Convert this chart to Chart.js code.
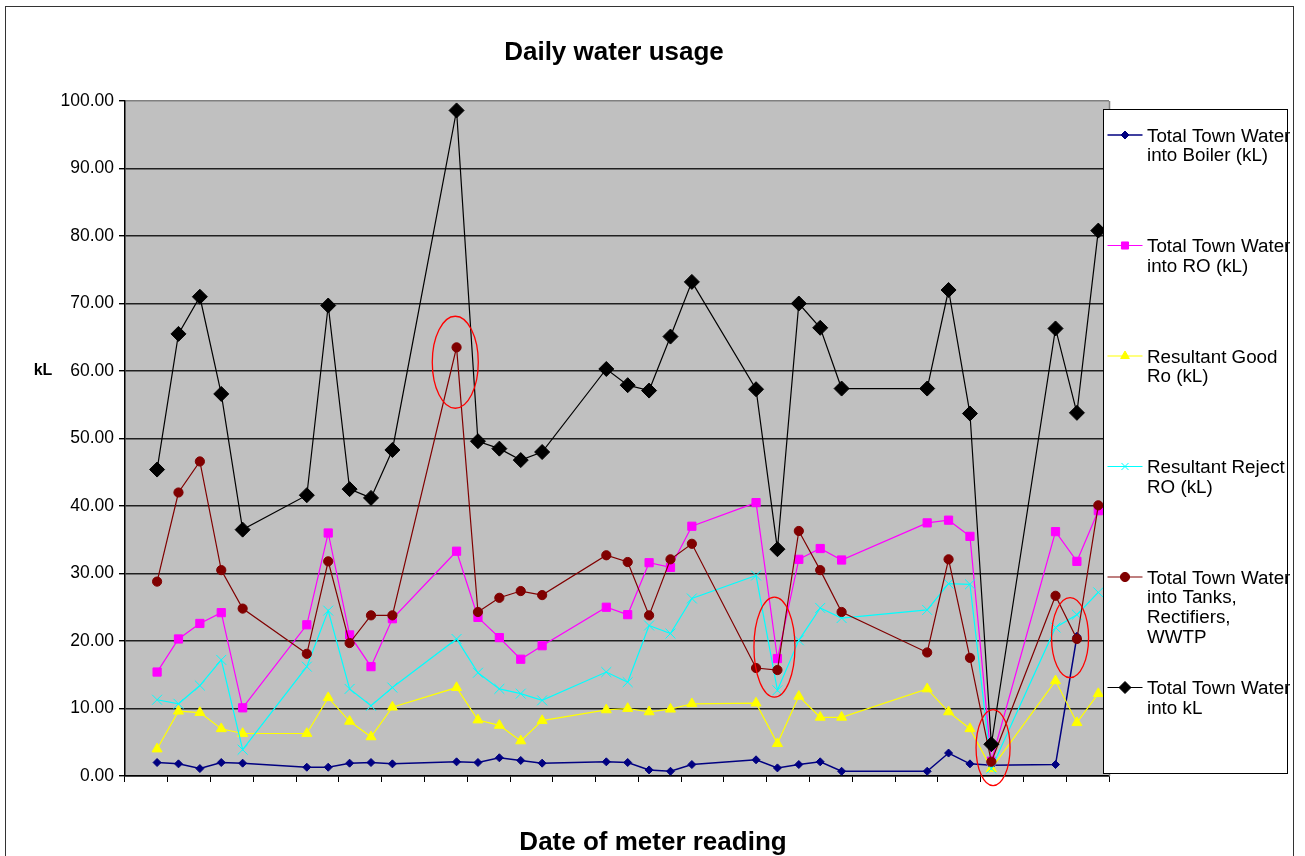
<!DOCTYPE html>
<html><head><meta charset="utf-8">
<script src="https://cdn.jsdelivr.net/npm/chart.js@4.4.1/dist/chart.umd.min.js"></script>
<style>html,body{margin:0;padding:0;background:#fff;overflow:hidden}canvas{display:block}</style>
</head><body>
<canvas id="c" width="1305" height="856"></canvas>
<script>
// ---------- DATA ----------
const dayLabels = Array.from({length: 46}, (_, i) => 'Day ' + (i + 1));
const seriesLines = [
  ['Total Town Water', 'into Boiler (kL)'],
  ['Total Town Water', 'into RO (kL)'],
  ['Resultant Good', 'Ro (kL)'],
  ['Resultant Reject', 'RO (kL)'],
  ['Total Town Water', 'into Tanks,', 'Rectifiers,', 'WWTP'],
  ['Total Town Water', 'into kL']
];
const boilerWater = [null,2.0,1.8,1.1,2.0,1.9,null,null,1.3,1.3,1.9,2.0,1.8,null,null,2.1,2.0,2.7,2.3,1.9,null,null,2.1,2.0,0.9,0.7,1.7,null,null,2.4,1.2,1.7,2.1,0.7,null,null,null,0.7,3.4,1.8,1.6,null,null,1.7,20.7,null];
const roWater     = [null,15.4,20.3,22.6,24.2,10.1,null,null,22.4,36.0,20.9,16.2,23.3,null,null,33.3,23.5,20.5,17.3,19.3,null,null,25.0,23.9,31.6,30.9,37.0,null,null,40.5,17.4,32.1,33.7,32.0,null,null,null,37.5,37.9,35.5,2.2,null,null,36.2,31.8,39.3];
const goodRo      = [null,4.0,9.6,9.4,7.0,6.3,null,null,6.3,11.6,8.1,5.8,10.2,null,null,13.1,8.3,7.5,5.2,8.2,null,null,9.8,10.0,9.5,9.9,10.7,null,null,10.8,4.8,11.8,8.7,8.7,null,null,null,12.9,9.5,7.0,1.1,null,null,14.1,7.9,12.2];
const rejectRo    = [null,11.3,10.7,13.4,17.2,3.9,null,null,16.2,24.5,12.9,10.4,13.1,null,null,20.3,15.3,12.9,12.2,11.2,null,null,15.4,13.9,22.3,21.1,26.3,null,null,29.7,12.7,20.1,24.9,23.4,null,null,null,24.6,28.5,28.4,1.1,null,null,22.0,23.9,27.2];
const tanksWater  = [null,28.8,42.0,46.6,30.5,24.8,null,null,18.1,31.8,19.7,23.8,23.8,null,null,63.5,24.3,26.4,27.4,26.8,null,null,32.7,31.7,23.8,32.1,34.4,null,null,16.0,15.7,36.3,30.5,24.3,null,null,null,18.3,32.1,17.5,2.1,null,null,26.7,20.3,40.1];
const totalWater  = [null,45.4,65.5,71.0,56.6,36.5,null,null,41.6,69.7,42.5,41.2,48.3,null,null,98.6,49.6,48.5,46.8,48.0,null,null,60.3,57.9,57.1,65.1,73.2,null,null,57.3,33.6,70.0,66.4,57.4,null,null,null,57.4,72.0,53.7,4.7,null,null,66.3,53.8,80.8];
const yTickValues = [0,10,20,30,40,50,60,70,80,90,100];
// highlighted points (annotation ellipses): category index, value
const highlightAt = [[14.94, 61.3], [29.86, 19.1], [40.08, 4.2], [43.68, 20.5]];

// ---------- STYLE ----------
const FONT = '"Liberation Sans", Arial, sans-serif';
const styles = [
  {color:'#000080', style:'rectRot', r:4,   lw:1.5},
  {color:'#FF00FF', style:'rect',    r:5.8, lw:1.2},
  {color:'#FFFF00', style:'triangle',r:5.8, lw:1.2},
  {color:'#00FFFF', style:'crossRot',r:7,   lw:1.2},
  {color:'#800000', style:'circle',  r:4.6, lw:1.2},
  {color:'#000000', style:'rectRot', r:7.5, lw:1.2}
];
const seriesData = [boilerWater, roWater, goodRo, rejectRo, tanksWater, totalWater];
const ellipseSize = [[23,46],[20.5,50],[17,38],[18.5,40]];

const datasets = seriesData.map((d, i) => ({
  label: seriesLines[i].join(' '),
  data: d,
  borderColor: styles[i].color,
  backgroundColor: styles[i].color,
  pointBackgroundColor: styles[i].color,
  pointBorderColor: styles[i].color,
  pointStyle: styles[i].style,
  pointRadius: styles[i].r,
  pointBorderWidth: 1,
  borderWidth: styles[i].lw,
  spanGaps: true,
  tension: 0,
  order: 6 - i,
  clip: false
}));

const decor = {
  id: 'decor',
  beforeDraw(chart) {
    const {ctx, chartArea: a} = chart;
    ctx.save();
    ctx.fillStyle = '#fff';
    ctx.fillRect(0, 0, chart.width, chart.height);
    ctx.fillStyle = '#C0C0C0';
    ctx.fillRect(a.left, a.top, a.right - a.left, a.bottom - a.top);
    ctx.restore();
  },
  afterDraw(chart) {
    const {ctx, chartArea: a, scales} = chart;
    ctx.save();
    // plot right border
    ctx.strokeStyle = '#808080'; ctx.lineWidth = 1.5;
    ctx.beginPath(); ctx.moveTo(a.right + 0.5, a.top); ctx.lineTo(a.right + 0.5, a.bottom); ctx.stroke();
    // ellipses
    ctx.strokeStyle = '#FF0000'; ctx.lineWidth = 1.3;
    highlightAt.forEach((h, k) => {
      const cx = scales.x.getPixelForValue(h[0]);
      const cy = scales.y.getPixelForValue(h[1]);
      ctx.beginPath();
      ctx.ellipse(cx, cy, ellipseSize[k][0], ellipseSize[k][1], 0, 0, Math.PI * 2);
      ctx.stroke();
    });
    // legend box
    const lx = a.right - 5.5, ly = a.top + 8.5, lw = 184, lh = 664;
    ctx.fillStyle = '#fff'; ctx.fillRect(lx, ly, lw, lh);
    ctx.strokeStyle = '#000'; ctx.lineWidth = 1; ctx.strokeRect(lx, ly, lw, lh);
    ctx.save();
    ctx.beginPath(); ctx.rect(lx, ly - 2, 1293.5 - lx, lh + 4); ctx.clip();
    datasets.forEach((ds, i) => {
      const y = ly + 25.5 + i * 110.5;
      ctx.strokeStyle = ds.borderColor; ctx.lineWidth = ds.borderWidth;
      ctx.beginPath(); ctx.moveTo(lx + 4, y); ctx.lineTo(lx + 39, y); ctx.stroke();
      ctx.fillStyle = ds.borderColor; ctx.strokeStyle = ds.borderColor; ctx.lineWidth = 1;
      Chart.helpers.drawPoint(ctx, {pointStyle: ds.pointStyle, radius: i === 5 ? 6 : Math.min(ds.pointRadius, 5), borderWidth: 1, rotation: 0}, lx + 21.5, y);
      ctx.fillStyle = '#000';
      ctx.font = '18.8px ' + FONT;
      ctx.textAlign = 'left'; ctx.textBaseline = 'middle';
      seriesLines[i].forEach((t, j) => ctx.fillText(t, lx + 43.5, y + 1.5 + j * 19.8));
    });
    ctx.restore();
    // titles
    ctx.fillStyle = '#000';
    ctx.textAlign = 'center'; ctx.textBaseline = 'middle';
    ctx.font = 'bold 26px ' + FONT;
    ctx.fillText('Daily water usage', (a.left + a.right) / 2 - 3, 53);
    ctx.fillText('Date of meter reading', 653, 843);
    ctx.font = 'bold 16px ' + FONT;
    ctx.fillText('kL', 43, 371);
    // outer border
    ctx.strokeStyle = '#333'; ctx.lineWidth = 1;
    ctx.strokeRect(5.5, 6.5, 1288, 900);
    ctx.restore();
  }
};

new Chart(document.getElementById('c'), {
  type: 'line',
  data: { labels: dayLabels, datasets },
  options: {
    responsive: false, devicePixelRatio: 1, animation: false, events: [],
    layout: { autoPadding: false, padding: { left: 0, right: 196, top: 101, bottom: 70 } },
    plugins: { legend: { display: false }, title: { display: false }, tooltip: { enabled: false } },
    scales: {
      x: {
        type: 'category', offset: true,
        grid: {
          offset: true, drawOnChartArea: false, drawTicks: true, tickLength: 6,
          color: c => (c.index === undefined || c.index % 2 === 0) ? '#000' : 'rgba(0,0,0,0)',
          tickColor: c => (c.index === undefined || c.index % 2 === 0) ? '#000' : 'rgba(0,0,0,0)'
        },
        ticks: { display: false, autoSkip: false },
        border: { display: true, color: '#000', width: 1.5 },
        afterFit: s => { s.height = 10; }
      },
      y: {
        min: 0, max: 100,
        afterBuildTicks: s => { s.ticks = yTickValues.map(v => ({value: v})); },
        ticks: { callback: v => Number(v).toFixed(2), color: '#000', padding: 5, font: { family: FONT, size: 17.5 } },
        grid: { color: c => (c.tick && c.tick.value === 100) ? '#808080' : '#202020', tickColor: '#000', tickLength: 6, lineWidth: 1.4 },
        border: { display: true, color: '#000', width: 1.5 },
        afterFit: s => { s.width = 125; }
      }
    }
  },
  plugins: [decor]
});
</script>
</body></html>
